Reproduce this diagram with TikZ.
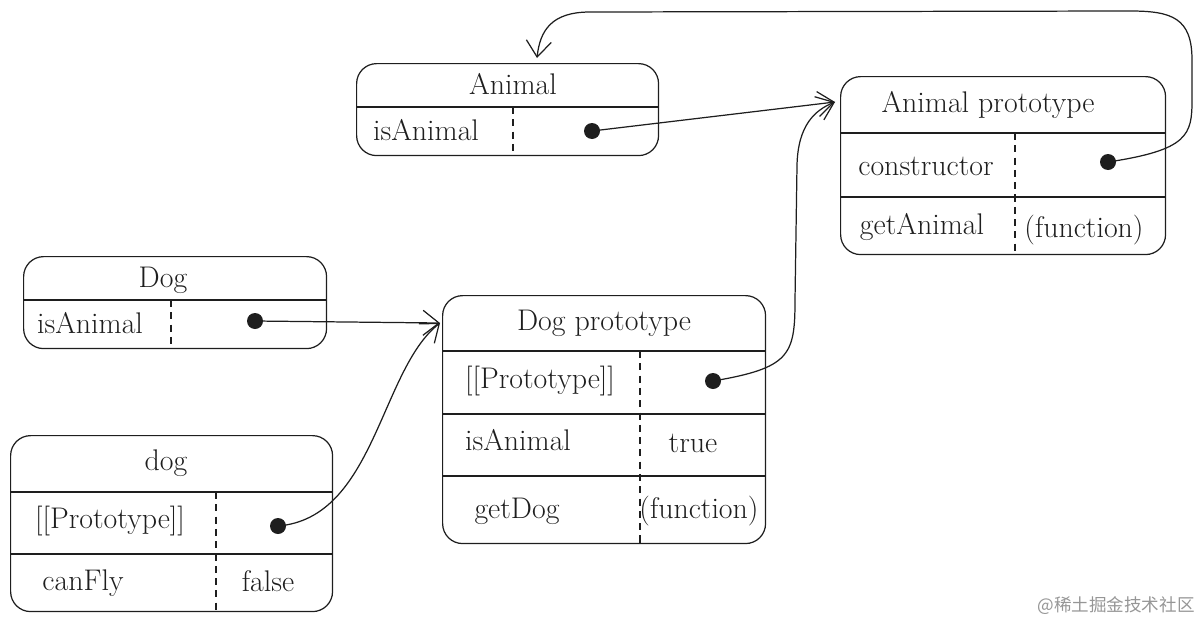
\documentclass[tikz,border=0pt]{standalone}
\usepackage{fontspec}
\newfontfamily\cjk{Noto Sans CJK SC}
\usetikzlibrary{arrows.meta}
\definecolor{inkcolor}{RGB}{30,30,30}
\definecolor{markcolor}{RGB}{150,150,150}

\tikzset{
  objbox/.style={draw=inkcolor, line width=0.7pt, rounded corners=0.4cm, anchor=north west, inner sep=0pt},
  rowline/.style={draw=inkcolor, line width=0.7pt},
  colline/.style={draw=inkcolor, line width=0.7pt, dash pattern=on 4pt off 3pt},
  field/.style={text=inkcolor, inner sep=1pt, font=\fontsize{17}{19}\selectfont},
  refdot/.style={circle, fill=inkcolor, inner sep=0pt, minimum width=0.28cm, minimum height=0.32cm},
  ptr/.style={draw=inkcolor, line width=0.7pt, -{Straight Barb[length=3.2mm, width=5mm]}}
}

\begin{document}
\begin{tikzpicture}[x=0.02cm, y=-0.02cm]
\useasboundingbox (0,0) rectangle (1202,622);

% Animal
\node[objbox, minimum width=6.04cm, minimum height=1.84cm] (animal) at (356,63) {};
\draw[rowline] (356,107) -- (658,107);
\draw[colline] (513,107) -- (513,155);
\node[field] (animalT) at (513,84) {Animal};
\node[field] (animalK) at (426,130) {isAnimal};
\node[refdot] (animalDot) at (592,131) {};

% Animal prototype
\node[objbox, minimum width=6.5cm, minimum height=3.56cm] (aproto) at (840,76) {};
\draw[rowline] (840,133) -- (1165,133);
\draw[rowline] (840,197) -- (1165,197);
\draw[colline] (1015,133) -- (1015,254);
\node[field] (aprotoT) at (988,105) {Animal prototype};
\node[field] (aprotoK1) at (926,166) {constructor};
\node[refdot] (aprotoDot) at (1108,162) {};
\node[field] (aprotoK2) at (922,227) {getAnimal};
\node[field] (aprotoV2) at (1084,230) {(function)};

% Dog
\node[objbox, minimum width=6.06cm, minimum height=1.84cm] (dogfn) at (23,256) {};
\draw[rowline] (23,300) -- (326,300);
\draw[colline] (171,300) -- (171,348);
\node[field] (dogfnT) at (163,280) {Dog};
\node[field] (dogfnK) at (90,323) {isAnimal};
\node[refdot] (dogfnDot) at (255,321) {};

% dog
\node[objbox, minimum width=6.44cm, minimum height=3.52cm] (dog) at (10,435) {};
\draw[rowline] (10,492) -- (332,492);
\draw[rowline] (10,554) -- (332,554);
\draw[colline] (216,492) -- (216,611);
\node[field] (dogT) at (166,463) {dog};
\node[field] (dogK1) at (110,521) {[[Prototype]]};
\node[refdot] (dogDot) at (278,526) {};
\node[field] (dogK2) at (83,583) {canFly};
\node[field] (dogV2) at (268,581) {false};

% Dog prototype
\node[objbox, minimum width=6.46cm, minimum height=4.96cm] (dproto) at (442,295) {};
\draw[rowline] (442,351) -- (765,351);
\draw[rowline] (442,414) -- (765,414);
\draw[rowline] (442,476) -- (765,476);
\draw[colline] (640,351) -- (640,543);
\node[field] (dprotoT) at (604,323) {Dog prototype};
\node[field] (dprotoK1) at (540,381) {[[Prototype]]};
\node[refdot] (dprotoDot) at (713,381) {};
\node[field] (dprotoK2) at (518,440) {isAnimal};
\node[field] (dprotoV2) at (693,443) {true};
\node[field] (dprotoK3) at (517,511) {getDog};
\node[field] (dprotoV3) at (699,511) {(function)};

% arrow ends
\coordinate (aprotoIn) at (835,102);
\coordinate (dprotoIn) at (440,323);
\coordinate (animalIn) at (537,58);

\draw[ptr] (animalDot.center) -- (aprotoIn);
\draw[ptr] (dogfnDot.center) -- (dprotoIn);
\draw[ptr] (dogDot.center) .. controls (375,518) and (380,370) .. (dprotoIn);
\draw[ptr] (dprotoDot.center) .. controls (790,368) and (795,355) .. (795,300)
  -- (797,165) .. controls (798,125) and (815,110) .. (aprotoIn);
\draw[ptr] (aprotoDot.center) .. controls (1188,150) and (1192,135) .. (1192,100)
  -- (1192,60) .. controls (1192,18) and (1172,11) .. (1130,11)
  -- (590,12) .. controls (552,12) and (540,30) .. (animalIn);

\node[text=markcolor, font=\cjk\fontsize{10}{12}\selectfont] (mark) at (1116,606) {@稀土掘金技术社区};
\end{tikzpicture}
\end{document}
